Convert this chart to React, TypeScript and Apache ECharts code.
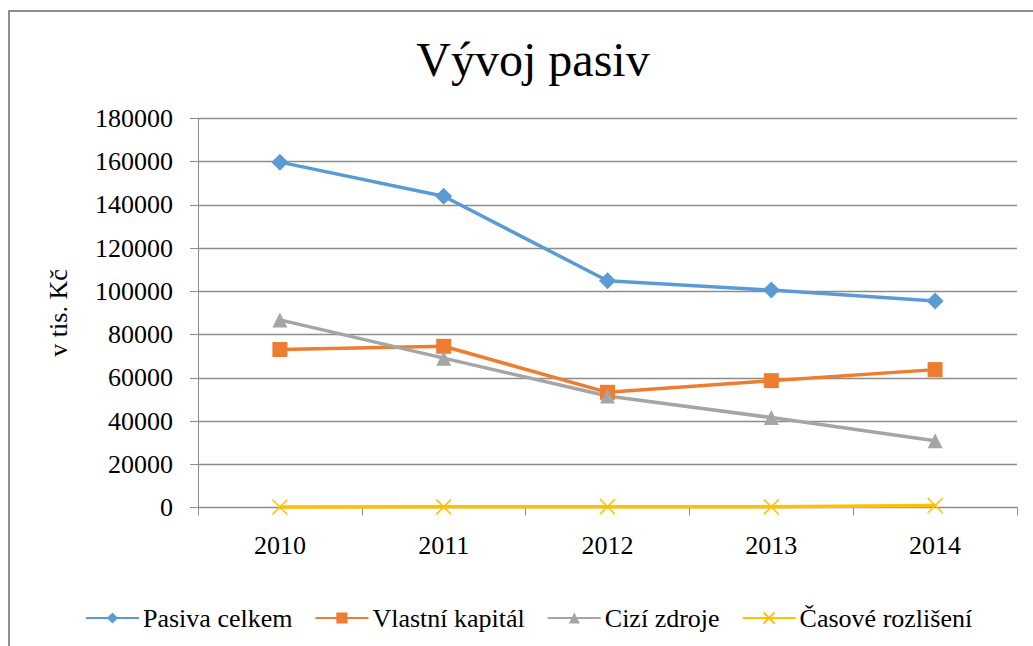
import React, { useEffect, useRef } from "react";
import * as echarts from "echarts";

const years = ["2010", "2011", "2012", "2013", "2014"];
const pasivaCelkem = [159800, 144000, 104900, 100600, 95600];
const vlastniKapital = [73100, 74600, 53300, 58700, 63800];
const ciziZdroje = [86800, 69100, 51600, 41600, 30900];
const casoveRozliseni = [200, 300, 400, 300, 900];
const seriesNames = ["Pasiva celkem", "Vlastní kapitál", "Cizí zdroje", "Časové rozlišení"];
const seriesColors = ["#5B9BD5", "#ED7D31", "#A5A5A5", "#FFC000"];
const titleText = "Vývoj pasiv";

const FONT = "Liberation Serif";
const CROSS = "path://M0,0L10,10M10,0L0,10";

export default function App() {
  const ref = useRef<HTMLDivElement>(null);
  useEffect(() => {
    if (!ref.current) return;
    const chart = echarts.init(ref.current, null, { renderer: "svg" });
    const mk = (i: number, data: number[], symbol: string, size: number, extraItem: any = {}) => ({
      name: seriesNames[i],
      type: "line",
      data,
      symbol,
      symbolSize: size,
      lineStyle: { color: seriesColors[i], width: 3.5 },
      itemStyle: { color: seriesColors[i], ...extraItem },
      emphasis: { disabled: true },
    });

    chart.setOption({
      animation: false,
      backgroundColor: "#ffffff",
      textStyle: { fontFamily: FONT },
      title: {
        text: titleText,
        left: 528,
        textAlign: "center",
        top: 30,
        textStyle: { fontFamily: FONT, fontSize: 48, fontWeight: "normal", color: "#000" },
      },
      graphic: [
        {
          type: "rect",
          shape: { x: 9, y: 11, width: 1200, height: 800 },
          style: { fill: "none", stroke: "#8f8f8f", lineWidth: 2 },
          silent: true,
          z: -1,
        },
      ],
      legend: {
        left: 80,
        top: 600,
        itemWidth: 53,
        itemHeight: 14,
        itemGap: 22,
        textStyle: { fontFamily: FONT, fontSize: 26, color: "#000", padding: [2, 0, 0, -1] },
        data: seriesNames,
      },
      grid: { left: 198, right: 16, top: 118.5, bottom: 138.5 },
      xAxis: {
        type: "category",
        data: years,
        boundaryGap: true,
        axisLine: { lineStyle: { color: "#8c8c8c", width: 1 } },
        axisTick: { show: true, length: 8, lineStyle: { color: "#8c8c8c" } },
        axisLabel: { fontFamily: FONT, fontSize: 26, color: "#000", margin: 25 },
      },
      yAxis: {
        type: "value",
        min: 0,
        max: 180000,
        interval: 20000,
        name: "v tis. Kč",
        nameLocation: "middle",
        nameRotate: 90,
        nameGap: 127,
        nameTextStyle: { fontFamily: FONT, fontSize: 26, color: "#000" },
        axisLine: { show: true, lineStyle: { color: "#8c8c8c", width: 1 } },
        axisTick: { show: true, length: 8, lineStyle: { color: "#8c8c8c" } },
        axisLabel: {
          fontFamily: FONT,
          fontSize: 26,
          color: "#000",
          margin: 25,
          formatter: (v: number) => String(v),
        },
        splitLine: { lineStyle: { color: "#8c8c8c", width: 1.3 } },
      },
      series: [
        mk(0, pasivaCelkem, "diamond", 17),
        mk(1, vlastniKapital, "rect", 15),
        mk(2, ciziZdroje, "triangle", 15),
        mk(3, casoveRozliseni, CROSS, 15, { borderColor: seriesColors[3], borderWidth: 1.5 }),
      ],
    });
    return () => chart.dispose();
  }, []);
  return (
    <div
      ref={ref}
      style={{ position: "fixed", left: 0, top: 0, width: 1033, height: 646, background: "#fff" }}
    />
  );
}
